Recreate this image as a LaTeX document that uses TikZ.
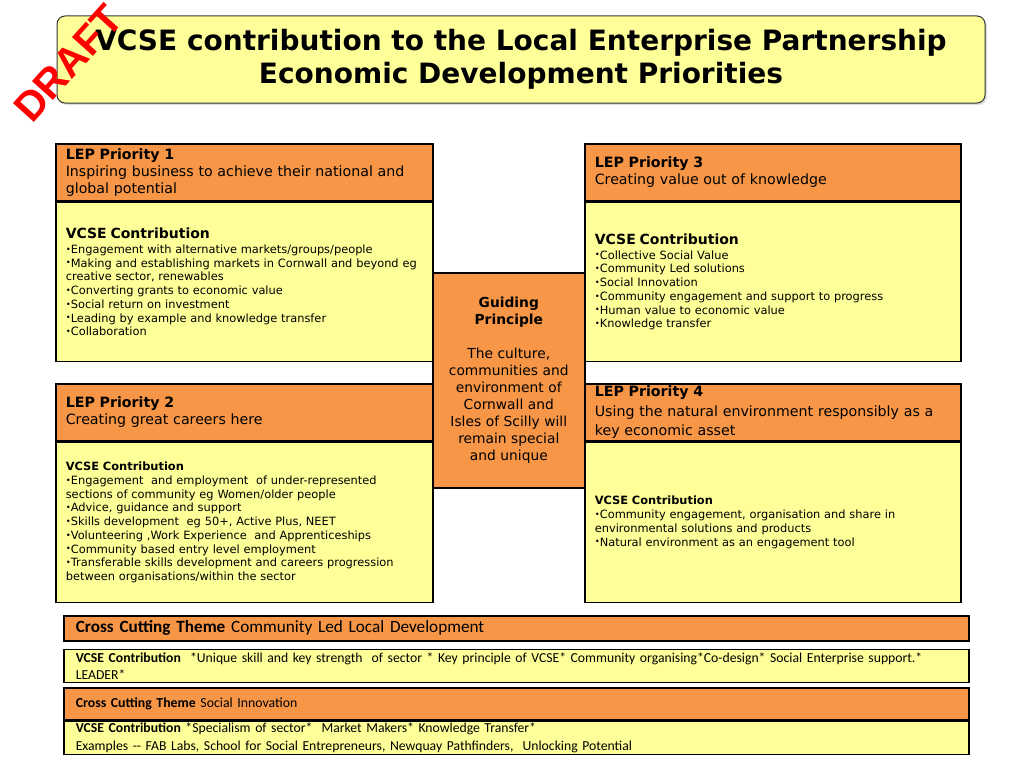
\documentclass[tikz,border=0pt]{standalone}
\usepackage{fontspec}
\setmainfont{DejaVu Sans}
\newfontfamily\calibrifont{Carlito}
\newfontfamily\stampfont{Liberation Sans}
\usetikzlibrary{positioning,shadows}
\definecolor{leporange}{HTML}{F79646}
\definecolor{vcseyellow}{HTML}{FFFF99}
\definecolor{draftred}{HTML}{FF0000}
\newcommand{\bl}{\raisebox{0.2ex}{\scalebox{0.75}{•}}}
\tikzset{
  box/.style={draw=black,line width=1.6pt,align=left,inner xsep=10pt,inner ysep=1pt,anchor=north west},
  headbox/.style={box,fill=leporange,minimum height=57pt,font=\fontsize{14.2}{17}\selectfont},
  bodybox/.style={box,fill=vcseyellow,minimum height=159pt,font=\fontsize{11.4}{13.75}\selectfont},
  guidebox/.style={box,fill=leporange,align=center,anchor=north west,font=\fontsize{13.8}{17}\selectfont},
  crosshead/.style={box,fill=leporange,inner xsep=12pt,font=\calibrifont\fontsize{17.2}{19}\selectfont},
  crossbody/.style={box,fill=vcseyellow,inner xsep=12pt,font=\calibrifont\fontsize{13.7}{17.5}\selectfont},
  titlebox/.style={draw=black!80,line width=1pt,rounded corners=8pt,fill=vcseyellow,align=center,
    drop shadow={opacity=0.25,shadow xshift=2pt,shadow yshift=-2pt},font=\bfseries\fontsize{28}{33}\selectfont},
  stamp/.style={text=draftred,font=\stampfont\bfseries\fontsize{41}{41}\selectfont}
}
\newcommand{\bigvcse}{{\fontsize{14}{16}\selectfont\bfseries VCSE Contribution}}

\begin{document}
\begin{tikzpicture}[x=1pt,y=-1pt]
  \useasboundingbox (0,0) rectangle (1024,768);
  % title
  \node[titlebox,minimum width=928pt,minimum height=87pt] (title) at (521,59.5)
    {VCSE contribution to the Local Enterprise Partnership\\Economic Development Priorities};
  % priorities
  \node[headbox,minimum width=377pt,text width=357pt] (p1head) at (55,143)
    {\textbf{LEP Priority 1}\\Inspiring business to achieve their national and\\global potential};
  \node[bodybox,minimum width=377pt,text width=357pt,below=0pt of p1head] (p1body)
    {\bigvcse\\[1pt]
     \bl Engagement with alternative markets/groups/people\\
     \bl Making and establishing markets in Cornwall and beyond eg\\
     creative sector, renewables\\
     \bl Converting grants to economic value\\
     \bl Social return on investment\\
     \bl Leading by example and knowledge transfer\\
     \bl Collaboration};
  \node[headbox,minimum width=376pt,text width=356pt] (p3head) at (584,143)
    {\textbf{LEP Priority 3}\\Creating value out of knowledge};
  \node[bodybox,minimum width=376pt,text width=356pt,below=0pt of p3head] (p3body)
    {\bigvcse\\[1pt]
     \bl Collective Social Value\\
     \bl Community Led solutions\\
     \bl Social Innovation\\
     \bl Community engagement and support to progress\\
     \bl Human value to economic value\\
     \bl Knowledge transfer};
  \node[headbox,minimum width=377pt,text width=357pt] (p2head) at (55,383)
    {\textbf{LEP Priority 2}\\Creating great careers here};
  \node[bodybox,minimum width=377pt,text width=357pt,minimum height=160pt,below=0pt of p2head] (p2body)
    {\textbf{VCSE Contribution}\\
     \bl Engagement\ \ and employment\ \ of under-represented\\
     sections of community eg Women/older people\\
     \bl Advice, guidance and support\\
     \bl Skills development\ \ eg 50+, Active Plus, NEET\\
     \bl Volunteering ,Work Experience\ \ and Apprenticeships\\
     \bl Community based entry level employment\\
     \bl Transferable skills development and careers progression\\
     between organisations/within the sector};
  \node[headbox,minimum width=376pt,text width=356pt,font=\fontsize{14.2}{19.5}\selectfont] (p4head) at (584,383)
    {\textbf{LEP Priority 4}\\Using the natural environment responsibly as a\\key economic asset};
  \node[bodybox,minimum width=376pt,text width=356pt,minimum height=160pt,below=0pt of p4head] (p4body)
    {\textbf{VCSE Contribution}\\
     \bl Community engagement, organisation and share in\\
     environmental solutions and products\\
     \bl Natural environment as an engagement tool};
  % guiding principle
  \node[guidebox,minimum width=152pt,minimum height=215pt,text width=132pt] (guide) at (432,272)
    {\textbf{Guiding}\\\textbf{Principle}\\[17pt]
     The culture,\\communities and\\environment of\\Cornwall and\\Isles of Scilly will\\remain special\\and unique};
  % cross cutting themes
  \node[crosshead,minimum width=905pt,minimum height=25pt,text width=881pt] (cc1head) at (63,615)
    {\textbf{Cross Cutting Theme} Community Led Local Development};
  \node[crossbody,minimum width=905pt,minimum height=33pt,text width=881pt,below=7pt of cc1head] (cc1body)
    {\textbf{VCSE Contribution}\ \ *Unique skill and key strength\ \ of sector * Key principle of VCSE* Community organising*Co-design* Social Enterprise support.*\\
     LEADER*};
  \node[crosshead,minimum width=905pt,minimum height=32pt,text width=881pt,font=\calibrifont\fontsize{13.8}{16}\selectfont] (cc2head) at (63,687)
    {\textbf{Cross Cutting Theme} Social Innovation};
  \node[crossbody,minimum width=905pt,minimum height=33pt,text width=881pt,below=0pt of cc2head] (cc2body)
    {\textbf{VCSE Contribution} *Specialism of sector*\ \ Market Makers* Knowledge Transfer*\\
     Examples -- FAB Labs, School for Social Entrepreneurs, Newquay Pathfinders,\ \ Unlocking Potential};
  % stamp
  \node[stamp,rotate=48] (draft) at (68,63) {DRAFT};
\end{tikzpicture}
\end{document}
